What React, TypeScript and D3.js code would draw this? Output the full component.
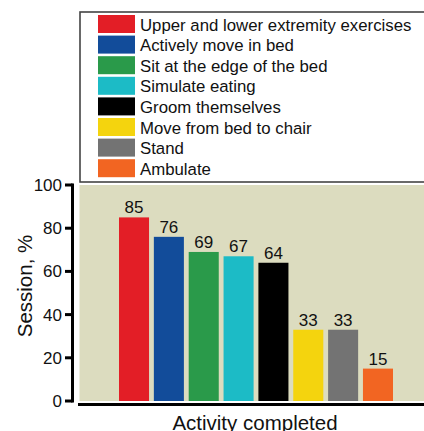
import React from "react";
import * as d3 from "d3";

const categories = [
  "Upper and lower extremity exercises",
  "Actively move in bed",
  "Sit at the edge of the bed",
  "Simulate eating",
  "Groom themselves",
  "Move from bed to chair",
  "Stand",
  "Ambulate",
];
const values = [85, 76, 69, 67, 64, 33, 33, 15];
const colors = ["#E31E26", "#124C9A", "#2A9A4A", "#1CBBC6", "#000000", "#F4D40E", "#737373", "#F26522"];
const yTicks = [0, 20, 40, 60, 80, 100];

const W = 424;
const H = 431;
const FONT = "Liberation Sans, Arial, sans-serif";

export default function App() {
  const y = d3.scaleLinear().domain([0, 100]).range([401, 185]);
  const x = d3
    .scaleBand<string>()
    .domain(categories)
    .range([116.6, 395.4])
    .paddingInner(0.138)
    .paddingOuter(0.069);

  const legX = 80;
  const legY = 12;
  const rowH = 20.6;

  return (
    <svg width={W} height={H} style={{ position: "absolute", left: 0, top: 0 }} fontFamily={FONT}>
      {/* plot background */}
      <rect x={79.5} y={185} width={W - 79.5} height={401 - 185} fill="#DCDCBF" />
      {/* legend */}
      <rect x={legX} y={legY} width={W - legX + 10} height={182 - legY} fill="#fff" stroke="#444" strokeWidth={1.6} />
      {categories.map((c, i) => (
        <g key={c}>
          <rect x={98} y={legY + 3 + i * rowH} width={37} height={18} fill={colors[i]} />
          <text x={140} y={legY + 18.5 + i * rowH} fontSize={16.8} fill="#111">
            {c}
          </text>
        </g>
      ))}
      {/* bars */}
      {values.map((v, i) => (
        <g key={i}>
          <rect
            x={x(categories[i])}
            y={y(v)}
            width={x.bandwidth()}
            height={y(0) - y(v)}
            fill={colors[i]}
          />
          <text
            x={(x(categories[i]) as number) + x.bandwidth() / 2}
            y={y(v) - 4}
            textAnchor="middle"
            fontSize={17}
            fill="#111"
          >
            {v}
          </text>
        </g>
      ))}
      {/* y axis */}
      <line x1={72.5} x2={72.5} y1={y(100) - 1.5} y2={y(0) + 1.5} stroke="#000" strokeWidth={3} />
      {yTicks.map((t) => (
        <g key={t}>
          <line x1={65} x2={72.5} y1={y(t)} y2={y(t)} stroke="#000" strokeWidth={3} />
          <text x={62} y={y(t) + 6} textAnchor="end" fontSize={17} fill="#111">
            {t}
          </text>
        </g>
      ))}
      {/* x axis */}
      <line x1={78} x2={W} y1={404.5} y2={404.5} stroke="#000" strokeWidth={3.2} />
      <text x={255} y={429.5} textAnchor="middle" fontSize={20.5} fill="#111">
        Activity completed
      </text>
      <text
        transform={`translate(32,${286}) rotate(-90)`}
        textAnchor="middle"
        fontSize={20.5}
        fill="#111"
      >
        Session, %
      </text>
    </svg>
  );
}
